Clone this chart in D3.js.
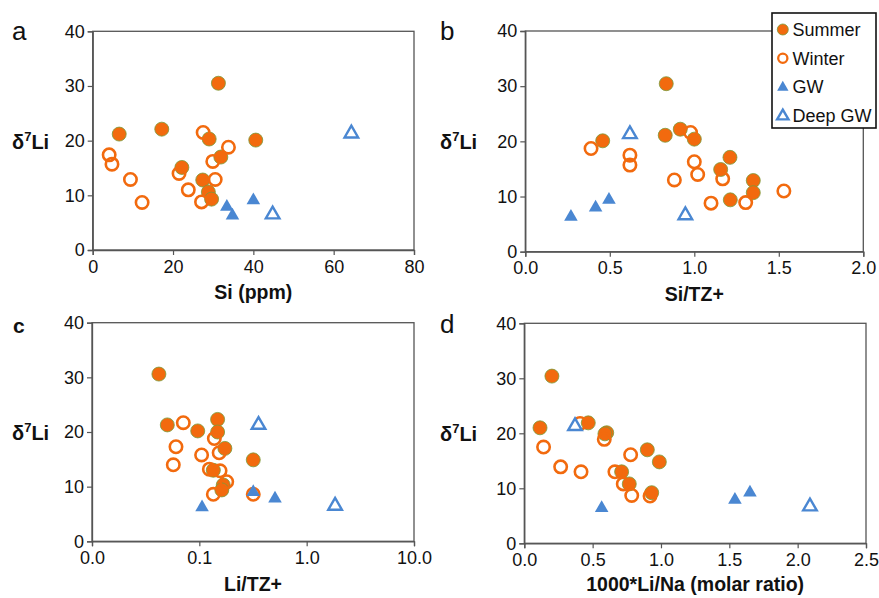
<!DOCTYPE html>
<html><head><meta charset="utf-8">
<script src="https://cdn.jsdelivr.net/npm/d3@7"></script>
<style>body{margin:0;background:#fff}svg{display:block;font-family:"Liberation Sans",Arial,sans-serif}</style>
</head><body>
<svg id="c" width="879" height="598"></svg>
<script>
// ---- data ----
const deltaTicks = [0, 10, 20, 30, 40];
const siTicks = [0, 20, 40, 60, 80];
const siTzTicks = [0, 0.5, 1.0, 1.5, 2.0];
const liTzTicks = [0.01, 0.1, 1, 10];
const liNaTicks = [0, 0.5, 1.0, 1.5, 2.0, 2.5];
const seriesNames = ["Summer", "Winter", "GW", "Deep GW"];

// panel a: Si (ppm) vs d7Li
const summerA = [[31.3,30.5],[17.2,22.1],[6.6,21.2],[29.0,20.3],[40.6,20.1],[31.9,17.0],[22.2,15.1],[27.4,12.8],[28.8,10.6],[29.6,9.3]];
const winterA = [[27.5,21.5],[33.8,18.8],[4.1,17.4],[4.8,15.7],[29.9,16.2],[21.5,14.0],[9.4,12.9],[30.5,12.9],[23.8,11.0],[12.3,8.7],[27.1,8.8]];
const gwA = [[33.4,7.9],[34.8,6.3],[40.0,9.1]];
const deepA = [[64.4,21.3],[44.8,6.5]];

// panel b: Si/TZ+ vs d7Li
const summerB = [[0.834,30.45],[0.917,22.2],[0.828,21.1],[1.0,20.4],[0.458,20.1],[1.211,17.1],[1.156,14.9],[1.349,12.9],[1.349,10.7],[1.213,9.4]];
const winterB = [[0.389,18.7],[0.619,17.5],[0.619,15.7],[0.978,21.6],[1.0,16.3],[1.02,14.0],[0.882,13.0],[1.168,13.2],[1.099,8.8],[1.304,8.9],[1.53,11.0]];
const gwB = [[0.27,6.3],[0.416,8.0],[0.495,9.4]];
const deepB = [[0.619,21.3],[0.947,6.6]];

// panel c: Li/TZ+ (log) vs d7Li
const summerC = [[0.042,30.6],[0.0503,21.3],[0.0966,20.2],[0.148,22.3],[0.148,20.0],[0.173,17.0],[0.318,14.9],[0.135,13.0],[0.167,10.3],[0.162,9.4]];
const winterC = [[0.0709,21.7],[0.138,18.8],[0.0606,17.3],[0.105,15.8],[0.153,16.2],[0.0572,14.0],[0.124,13.2],[0.156,12.9],[0.180,10.9],[0.135,8.6],[0.318,8.6]];
const gwC = [[0.106,6.2],[0.318,9.0],[0.507,7.8]];
const deepC = [[0.356,21.3],[1.84,6.5]];

// panel d: 1000*Li/Na vs d7Li
const summerD = [[0.202,30.4],[0.115,21.0],[0.468,21.9],[0.603,20.1],[0.59,19.9],[0.900,17.0],[0.988,14.8],[0.712,13.0],[0.768,10.8],[0.932,9.2]];
const winterD = [[0.408,21.8],[0.585,18.9],[0.141,17.5],[0.778,16.1],[0.266,13.9],[0.415,13.0],[0.663,13.0],[0.724,10.8],[0.786,8.7],[0.92,8.6]];
const gwD = [[0.566,6.4],[1.541,7.9],[1.651,9.2]];
const deepD = [[0.371,21.3],[2.09,6.7]];

// ---- styling / layout ----
const ORANGE = "#f26a0e", BLUE = "#4a87d2", AXIS = "#555";
const svg = d3.select("#c");

const panels = [
  {letter:"a", lx:12, ly:40, lsize:26, lweight:"normal", title:"Si (ppm)", x0:92.7, x1:414, y0:250, y1:31.3,
   scale:d3.scaleLinear().domain([0,80]), ticks:siTicks, fmt:d3.format("d"),
   data:[summerA,winterA,gwA,deepA], yl:12, tdy:49},
  {letter:"b", lx:440, ly:40, lsize:26, lweight:"normal", title:"Si/TZ+", x0:525.3, x1:863.3, y0:251.7, y1:31,
   scale:d3.scaleLinear().domain([0,2]), ticks:siTzTicks, fmt:d3.format(".1f"),
   data:[summerB,winterB,gwB,deepB], yl:440, tdy:49},
  {letter:"c", lx:13, ly:333, lsize:21, lweight:"bold", title:"Li/TZ+", x0:92, x1:414, y0:541.3, y1:322.7,
   scale:d3.scaleLog().domain([0.01,10]), ticks:liTzTicks, fmt:d=>d===0.01?"0.0":d3.format(".1f")(d),
   data:[summerC,winterC,gwC,deepC], yl:12, tdy:50},
  {letter:"d", lx:440, ly:333, lsize:26, lweight:"normal", title:"1000*Li/Na (molar ratio)", x0:524.3, x1:866, y0:543.3, y1:323.3,
   scale:d3.scaleLinear().domain([0,2.5]), ticks:liNaTicks, fmt:d3.format(".1f"),
   data:[summerD,winterD,gwD,deepD], yl:440, tdy:48}
];

const triBig = d3.symbol().type(d3.symbolTriangle).size(80);
const triSmall = d3.symbol().type(d3.symbolTriangle).size(56);

function drawMarker(g, kind, x, y, small) {
  if (kind === 0) {
    g.append("circle").attr("cx",x).attr("cy",y).attr("r", small?5.5:7)
      .attr("fill",ORANGE).attr("stroke","#7a9a3a").attr("stroke-width",0.8);
  } else if (kind === 1) {
    g.append("circle").attr("cx",x).attr("cy",y).attr("r", small?4.6:6.2)
      .attr("fill","none").attr("stroke",ORANGE).attr("stroke-width", small?2.3:2.6);
  } else if (kind === 2) {
    g.append("path").attr("d",(small?triSmall:triBig)()).attr("transform",`translate(${x},${y})`)
      .attr("fill",BLUE);
  } else {
    g.append("path").attr("d",(small?triSmall:triBig)()).attr("transform",`translate(${x},${y})`)
      .attr("fill","#fff").attr("stroke",BLUE).attr("stroke-width",2.4).attr("stroke-linejoin","miter");
  }
}

panels.forEach(p => {
  const x = p.scale.range([p.x0, p.x1]);
  const y = d3.scaleLinear().domain([0,40]).range([p.y0, p.y1]);
  const g = svg.append("g");

  // frame
  g.append("rect").attr("x",p.x0).attr("y",p.y1).attr("width",p.x1-p.x0).attr("height",p.y0-p.y1)
    .attr("fill","none").attr("stroke",AXIS).attr("stroke-width",1.3);

  // y axis
  const ya = g.append("g").attr("transform",`translate(${p.x0},0)`)
    .call(d3.axisLeft(y).tickValues(deltaTicks).tickSize(5).tickPadding(3).tickFormat(d3.format("d")));
  // x axis
  const xa = g.append("g").attr("transform",`translate(0,${p.y0})`)
    .call(d3.axisBottom(x).tickValues(p.ticks).tickSize(5).tickPadding(5).tickFormat(p.fmt));
  [ya, xa].forEach(a => {
    a.select(".domain").attr("stroke",AXIS).attr("stroke-width",1.3);
    a.selectAll(".tick line").attr("stroke",AXIS).attr("stroke-width",1.2);
    a.selectAll("text").attr("font-size",18).attr("fill","#111")
      .attr("font-family",'"Liberation Sans",Arial,sans-serif');
  });

  // panel letter
  g.append("text").attr("x",p.lx).attr("y",p.ly).attr("font-size",p.lsize).attr("font-weight",p.lweight)
    .attr("fill","#111").text(p.letter);

  // y title
  const yt = g.append("text").attr("x",p.yl).attr("y",y(20)+8).attr("font-size",20).attr("font-weight","bold").attr("fill","#111");
  yt.append("tspan").text("δ");
  yt.append("tspan").attr("font-size",13).attr("dy",-8).text("7");
  yt.append("tspan").attr("dy",8).text("Li");

  // x title
  g.append("text").attr("x",(p.x0+p.x1)/2).attr("y",p.y0+p.tdy).attr("text-anchor","middle")
    .attr("font-size",19.5).attr("font-weight","bold").attr("fill","#111").text(p.title);

  // points (series drawn in legend order)
  p.data.forEach((series, k) => {
    const sg = g.append("g");
    series.forEach(d => drawMarker(sg, k, x(d[0]), y(d[1]), false));
  });
});

// legend
const lg = svg.append("g");
lg.append("rect").attr("x",772).attr("y",13).attr("width",104).attr("height",115)
  .attr("fill","#fff").attr("stroke","#111").attr("stroke-width",1.6);
seriesNames.forEach((name, i) => {
  const cy = 29.5 + i * 28.7;
  drawMarker(lg, i, 782.8, cy + (i>=2 ? 0.5 : 0), true);
  lg.append("text").attr("x",792.5).attr("y",cy+6.5).attr("font-size",18).attr("fill","#111").text(name);
});
</script>
</body></html>
